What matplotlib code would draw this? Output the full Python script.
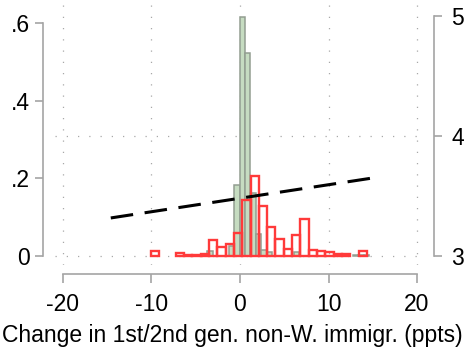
import numpy as np
import matplotlib
matplotlib.use("Agg")
import matplotlib.pyplot as plt
from matplotlib.transforms import blended_transform_factory

plt.rcParams['font.family'] = ['Liberation Sans', 'DejaVu Sans']
plt.rcParams['font.size'] = 16.5

# gray/green histogram (density), bins of equal width
gray_start = -3.71
gray_width = 0.61
gray_density = [0.013, 0, 0, 0, 0.027, 0.184, 0.616, 0.523, 0.163, 0.057,
                0.016, 0.010, 0, 0, 0, 0, 0.009, 0, 0, 0,
                0, 0, 0, 0, 0, 0, 0, 0.0015, 0.0015, 0.0015]

# red outline histogram (density)
red_start = -10.09
red_width = 0.94
red_density = [0.012, 0, 0, 0.007, 0.003, 0.003, 0.005, 0.041, 0.022, 0.031,
               0.060, 0.143, 0.207, 0.129, 0.075, 0.044, 0.018, 0.054, 0.094, 0.016,
               0.012, 0.010, 0.006, 0.006, 0, 0.012]

# fitted line, right axis
fit_x = [-14.6, 15.7]
fit_y = [3.317, 3.658]

xticks = [-20, -10, 0, 10, 20]
xtick_labels = ['-20', '-10', '0', '10', '20']
lticks = [0, 0.2, 0.4, 0.6]
ltick_labels = ['0', '.2', '.4', '.6']
rticks = [3, 4, 5]
rtick_labels = ['3', '4', '5']
xlabel = 'Change in 1st/2nd gen. non-W. immigr. (ppts)'

fig = plt.figure(figsize=(4.67, 3.53), dpi=100)
ax = fig.add_axes([55/467, 88/353, 370/467, 265/353])
ax2 = ax.twinx()

spine_col = '#a4a4a4'
grid_col = '#a8a8a8'

# histograms
g_left = gray_start + gray_width * np.arange(len(gray_density))
g_h = np.array(gray_density)
m = g_h > 0
ax.bar(g_left[m], g_h[m], width=gray_width, align='edge',
       facecolor='#c6dcc1', edgecolor='#939e91', linewidth=1.1, zorder=2)

r_left = red_start + red_width * np.arange(len(red_density))
r_h = np.array(red_density)
m = r_h > 0
ax.bar(r_left[m], r_h[m], width=red_width, align='edge',
       facecolor='none', edgecolor='#ff3a3a', linewidth=1.7, zorder=3)

ax.set_xlim(-20.9, 20.9)
ax.set_ylim(-0.0232, 0.6593)
ax2.set_ylim(2.925, 5.133)

# grid
ax.set_xticks(xticks)
ax.set_xticklabels(xtick_labels)
ax.grid(axis='x', color=grid_col, linestyle=(0, (1, 8)), linewidth=0.9, zorder=0)
ax.set_axisbelow(True)
tr = blended_transform_factory(ax.transAxes, ax2.transData)
for yv in [3, 4]:
    ax.plot([0, 1], [yv, yv], transform=tr, color=grid_col,
            linestyle=(0, (1, 8)), linewidth=0.9, zorder=1)

ax2.plot(fit_x, fit_y, color='black', linewidth=2.2, dashes=(7.4, 3.8),
         solid_capstyle='butt', dash_capstyle='butt')

# spines
for a in (ax, ax2):
    for s in a.spines.values():
        s.set_visible(False)
ax.spines['left'].set_visible(True)
ax.spines['left'].set_position(('outward', 8.6))
ax.spines['left'].set_bounds(0, 0.6)
ax.spines['bottom'].set_visible(True)
ax.spines['bottom'].set_position(('outward', 6.5))
ax.spines['bottom'].set_bounds(-20, 20)
ax2.spines['right'].set_visible(True)
ax2.spines['right'].set_position(('outward', 6.5))
ax2.spines['right'].set_bounds(3, 5)
for sp in (ax.spines['left'], ax.spines['bottom'], ax2.spines['right']):
    sp.set_color(spine_col)
    sp.set_linewidth(1.2)

ax.set_yticks(lticks)
ax.set_yticklabels(ltick_labels)
ax2.set_yticks(rticks)
ax2.set_yticklabels(rtick_labels)

ax.tick_params(axis='y', length=5.8, width=1.2, color=spine_col, pad=3.6)
ax.tick_params(axis='x', length=6.5, width=1.2, color=spine_col, pad=7.0)
ax2.tick_params(axis='y', length=5.8, width=1.2, color=spine_col, pad=6.5)

ax.set_xlabel(xlabel, labelpad=6)
ax.xaxis.label.set_x((232.5 - 55) / 370)

fig.savefig('out.png', dpi=100)
